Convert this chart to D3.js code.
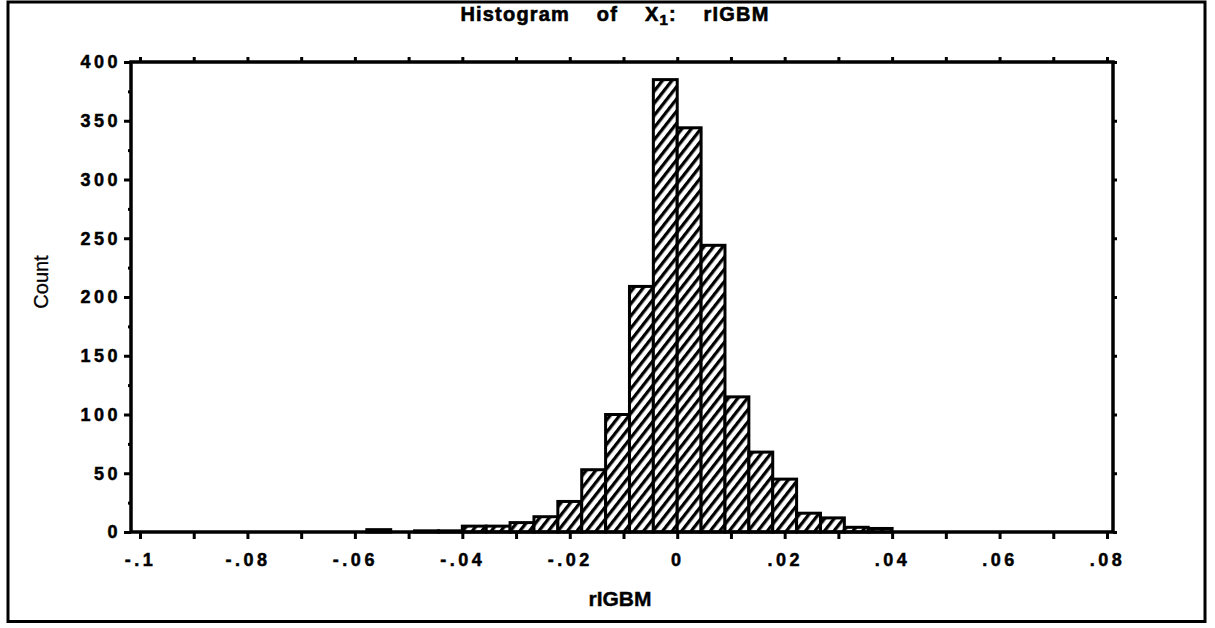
<!DOCTYPE html>
<html>
<head>
<meta charset="utf-8">
<script src="https://cdn.jsdelivr.net/npm/d3@7"></script>
<style>
  html, body { margin: 0; padding: 0; background: #fff; }
  svg { display: block; }
  text { font-family: "Liberation Sans", Arial, Helvetica, sans-serif; fill: #000; }
</style>
</head>
<body>
<svg id="chart" width="1215" height="628"></svg>
<script>
// ---- data ----
const titleMain = "Histogram of X";
const titleSub = "1";
const titleEnd = ": rIGBM";
const xLabel = "rIGBM";
const yLabel = "Count";

const binWidth = 0.04 / 9;             // histogram bin width (in rIGBM units)
const binIndex = [-13, -11, -10, -9, -8, -7, -6, -5, -4, -3, -2, -1, 0, 1, 2, 3, 4, 5, 6, 7, 8];
const counts   = [  2,   1,   1,  5,  5,  8, 13, 26, 53, 100, 209, 385, 344, 244, 115, 68, 45, 16, 12, 4, 3];

const xTickValues = [-0.1, -0.08, -0.06, -0.04, -0.02, 0, 0.02, 0.04, 0.06, 0.08];
const xTickLabels = ["-.1", "-.08", "-.06", "-.04", "-.02", "0", ".02", ".04", ".06", ".08"];
const xMinorTicks = d3.range(-10, 9).map(i => i / 100);
const yTickValues = [0, 50, 100, 150, 200, 250, 300, 350, 400];
const yMinorTicks = [25, 75, 125, 175, 225, 275, 325, 375];

// ---- layout ----
const svg = d3.select("#chart");
const frame = { left: 131, right: 1113, top: 62, bottom: 532 };

const x = d3.scaleLinear().domain([-0.1, 0.08]).range([140, 1107]);
const y = d3.scaleLinear().domain([0, 400]).range([frame.bottom, frame.top]);

// hatch pattern
const defs = svg.append("defs");
const pat = defs.append("pattern")
  .attr("id", "hatch")
  .attr("patternUnits", "userSpaceOnUse")
  .attr("width", 7.5).attr("height", 7.5)
  .attr("patternTransform", "rotate(38)");
pat.append("rect").attr("width", 7.5).attr("height", 7.5).attr("fill", "#fff");
pat.append("line").attr("x1", 0).attr("y1", 0).attr("x2", 0).attr("y2", 7.5)
  .attr("stroke", "#000").attr("stroke-width", 6.5);

// outer border
svg.append("rect")
  .attr("x", 8).attr("y", 2).attr("width", 1197).attr("height", 619.5)
  .attr("fill", "none").attr("stroke", "#000").attr("stroke-width", 3);

// title
const title = svg.append("text")
  .attr("x", 615).attr("y", 21)
  .attr("text-anchor", "middle")
  .attr("font-size", 20).attr("font-weight", "bold")
  .attr("stroke", "#000").attr("stroke-width", 0.6)
  .style("letter-spacing", "1.2px")
  .style("word-spacing", "20px")
  .style("white-space", "pre");
title.append("tspan").text(titleMain);
title.append("tspan").attr("dy", 4).attr("font-size", 15).text(titleSub);
title.append("tspan").attr("dy", -4).text(titleEnd);

// bars
const bars = binIndex.map((k, i) => ({ x0: k * binWidth, x1: (k + 1) * binWidth, n: counts[i] }));
svg.append("g").selectAll("rect")
  .data(bars)
  .join("rect")
  .attr("x", d => x(d.x0))
  .attr("y", d => y(d.n))
  .attr("width", d => x(d.x1) - x(d.x0))
  .attr("height", d => y(0) - y(d.n))
  .attr("fill", "url(#hatch)")
  .attr("stroke", "#000")
  .attr("stroke-width", 3);

// plot frame
svg.append("rect")
  .attr("x", frame.left).attr("y", frame.top)
  .attr("width", frame.right - frame.left).attr("height", frame.bottom - frame.top)
  .attr("fill", "none").attr("stroke", "#000").attr("stroke-width", 3.5);

const labelStyle = g => g.selectAll("text")
  .attr("font-size", 18).attr("font-weight", "bold")
  .attr("stroke", "#000").attr("stroke-width", 0.5)
  .style("letter-spacing", "3.5px").attr("fill", "#000");

// x axis (bottom) ticks
const xAxis = d3.axisBottom(x).tickValues(xMinorTicks).tickSize(7).tickFormat("");
svg.append("g").attr("transform", `translate(0,${frame.bottom})`).call(xAxis)
  .call(g => g.select(".domain").remove())
  .call(g => g.selectAll("line").attr("stroke-width", 3));
const xAxisLabels = d3.axisBottom(x).tickValues(xTickValues).tickSize(0)
  .tickFormat((d, i) => xTickLabels[i]).tickPadding(21);
svg.append("g").attr("transform", `translate(0,${frame.bottom})`).call(xAxisLabels)
  .call(g => g.select(".domain").remove())
  .call(labelStyle);

// x axis top ticks
const xTop = d3.axisTop(x).tickValues(xMinorTicks).tickSize(5).tickFormat("");
svg.append("g").attr("transform", `translate(0,${frame.top})`).call(xTop)
  .call(g => g.select(".domain").remove())
  .call(g => g.selectAll("line").attr("stroke-width", 3));

// y axis
const yAxis = d3.axisLeft(y).tickValues(yTickValues).tickSize(7).tickPadding(3);
svg.append("g").attr("transform", `translate(${frame.left},0)`).call(yAxis)
  .call(g => g.select(".domain").remove())
  .call(g => g.selectAll("line").attr("stroke-width", 3))
  .call(labelStyle);
const yMinor = d3.axisLeft(y).tickValues(yMinorTicks).tickSize(3).tickFormat("");
svg.append("g").attr("transform", `translate(${frame.left},0)`).call(yMinor)
  .call(g => g.select(".domain").remove())
  .call(g => g.selectAll("line").attr("stroke-width", 3));
// right side ticks
const yRight = d3.axisRight(y).tickValues(yTickValues).tickSize(4).tickFormat("");
svg.append("g").attr("transform", `translate(${frame.right},0)`).call(yRight)
  .call(g => g.select(".domain").remove())
  .call(g => g.selectAll("line").attr("stroke-width", 3));

// axis titles
svg.append("text")
  .attr("x", 620).attr("y", 606)
  .attr("text-anchor", "middle")
  .attr("font-size", 21).attr("font-weight", "bold")
  .attr("stroke", "#000").attr("stroke-width", 0.4)
  .text(xLabel);
svg.append("text")
  .attr("transform", "translate(48,282) rotate(-90)")
  .attr("text-anchor", "middle")
  .attr("font-size", 20)
  .attr("stroke", "#000").attr("stroke-width", 0.3)
  .text(yLabel);
</script>
</body>
</html>
